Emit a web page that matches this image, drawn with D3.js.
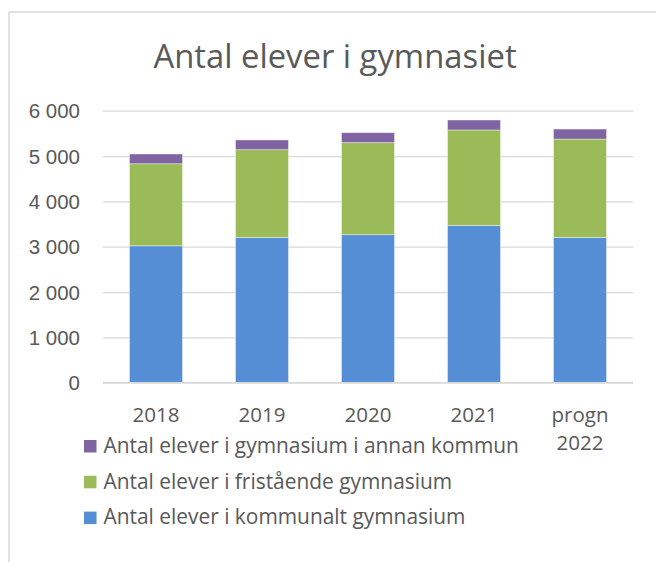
<!DOCTYPE html>
<html>
<head>
<meta charset="utf-8">
<script src="https://cdn.jsdelivr.net/npm/d3@7"></script>
<style>
  body { margin: 0; background: #fff; }
  svg { display: block; font-family: "Open Sans", "Noto Sans", sans-serif; }
</style>
</head>
<body>
<svg id="chart" width="656" height="562"></svg>
<script>
// data
var categories = ["2018", "2019", "2020", "2021", "progn 2022"];
var kommunalt = [3020, 3205, 3265, 3470, 3205];
var fristaende = [1810, 1935, 2030, 2105, 2170];
var annanKommun = [215, 215, 220, 220, 220];
var seriesNames = [
  "Antal elever i kommunalt gymnasium",
  "Antal elever i fristående gymnasium",
  "Antal elever i gymnasium i annan kommun"
];
var seriesColors = ["#558ed5", "#9bbb59", "#8064a2"];
var yTicks = [0, 1000, 2000, 3000, 4000, 5000, 6000];

var svg = d3.select("#chart");
var textColor = "#595959";
var gridColor = "#d9d9d9";

// outer chart border
svg.append("rect")
  .attr("x", 9).attr("y", 12)
  .attr("width", 660).attr("height", 570)
  .attr("fill", "none")
  .attr("stroke", gridColor)
  .attr("stroke-width", 1.5);

svg.append("text")
  .attr("x", 335).attr("y", 67.5)
  .attr("text-anchor", "middle")
  .attr("fill", textColor)
  .style("font-size", "32.8px")
  .text("Antal elever i gymnasiet");

var plot = { left: 103, right: 633, top: 110.7, bottom: 382.7 };

var x = d3.scaleBand()
  .domain(categories)
  .range([plot.left, plot.right])
  .paddingInner(0.5)
  .paddingOuter(0.25);

var y = d3.scaleLinear()
  .domain([0, 6000])
  .range([plot.bottom, plot.top]);

// gridlines
var yAxis = d3.axisLeft(y)
  .tickValues(yTicks)
  .tickSize(-(plot.right - plot.left))
  .tickPadding(23)
  .tickFormat(function(d) { return d3.format(",")(d).replace(/,/g, " "); });

var gy = svg.append("g")
  .attr("transform", "translate(" + plot.left + ",0)")
  .call(yAxis);
gy.select(".domain").remove();
gy.selectAll(".tick line").attr("stroke", gridColor).attr("stroke-width", 1.3);
gy.selectAll(".tick text")
  .attr("fill", textColor)
  .style("font-size", "20.5px")
  .attr("dy", "0.35em")
  .attr("x", -23);

// stacked bars
var rows = categories.map(function(c, i) {
  return { cat: c, k: kommunalt[i], f: fristaende[i], a: annanKommun[i] };
});
var stack = d3.stack().keys(["k", "f", "a"]);
var layers = stack(rows);

svg.selectAll(".layer")
  .data(layers)
  .enter().append("g")
  .attr("class", "layer")
  .attr("fill", function(d, i) { return seriesColors[i]; })
  .selectAll("rect")
  .data(function(d) { return d; })
  .enter().append("rect")
  .attr("x", function(d) { return x(d.data.cat); })
  .attr("width", x.bandwidth())
  .attr("y", function(d) { return y(d[1]); })
  .attr("height", function(d) { return y(d[0]) - y(d[1]); })
  .attr("stroke", "#ffffff")
  .attr("stroke-opacity", 0.5)
  .attr("stroke-width", 0.8);

// x axis line
svg.append("line")
  .attr("x1", plot.left).attr("x2", plot.right)
  .attr("y1", plot.bottom).attr("y2", plot.bottom)
  .attr("stroke", gridColor)
  .attr("stroke-width", 1.3);

// category labels (wrap "progn 2022")
var xl = svg.selectAll(".xlabel")
  .data(categories)
  .enter().append("text")
  .attr("class", "xlabel")
  .attr("text-anchor", "middle")
  .attr("fill", textColor)
  .style("font-size", "20.5px")
  .attr("y", 421.5);
xl.each(function(d) {
  var words = d.split(" ");
  var t = d3.select(this);
  var cx = x(d) + x.bandwidth() / 2;
  words.forEach(function(w, j) {
    t.append("tspan").attr("x", cx).attr("dy", j == 0 ? 0 : 28.5).text(w);
  });
});

// legend, top entry is the top of the stack
var legendOrder = [2, 1, 0];
var lg = svg.selectAll(".legend")
  .data(legendOrder)
  .enter().append("g")
  .attr("class", "legend")
  .attr("transform", function(d, i) { return "translate(84," + (440 + i * 35.8) + ")"; });
lg.append("rect")
  .attr("width", 12.5).attr("height", 12.5)
  .attr("fill", function(d) { return seriesColors[d]; });
lg.append("text")
  .attr("x", 19.5).attr("y", 12.8)
  .attr("fill", textColor)
  .style("font-size", "20.9px")
  .text(function(d) { return seriesNames[d]; });
</script>
</body>
</html>
